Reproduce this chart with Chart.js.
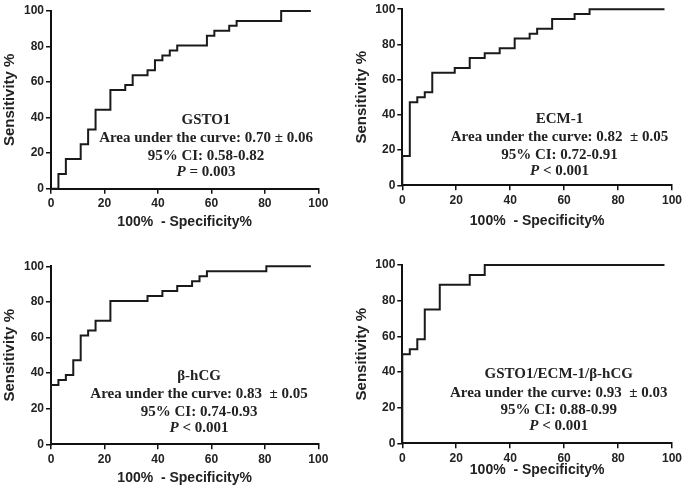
<!DOCTYPE html>
<html>
<head>
<meta charset="utf-8">
<script src="https://cdn.jsdelivr.net/npm/chart.js@4.4.0/dist/chart.umd.min.js"></script>
<style>
  html, body { margin: 0; padding: 0; background: #fff; }
  #wrap { position: relative; width: 685px; height: 489px; overflow: hidden; }
  #wrap canvas { position: absolute; }
</style>
</head>
<body>
<div id="wrap">
  <canvas id="rocGsto" width="342" height="245" style="left:0;top:0"></canvas>
  <canvas id="rocEcm" width="343" height="245" style="left:342px;top:0"></canvas>
  <canvas id="rocHcg" width="342" height="244" style="left:0;top:245px"></canvas>
  <canvas id="rocCombo" width="343" height="244" style="left:342px;top:245px"></canvas>
</div>
<script>
// ROC corner points (100% - specificity, sensitivity)
const gstoFpr = [0, 2.78, 5.56, 11.11, 13.89, 16.67, 22.22, 27.78, 30.56, 36.11, 38.89, 41.67, 44.44, 47.22, 58.33, 61.11, 66.67, 69.44, 86.11, 97.22];
const gstoTpr = [0, 8.33, 16.67, 25, 33.33, 44.44, 55.56, 58.33, 63.89, 66.67, 72.22, 75, 77.78, 80.56, 86.11, 88.89, 91.67, 94.44, 100, 100];

const ecmFpr = [0, 0, 2.78, 5.56, 8.33, 11.11, 19.44, 25, 30.56, 36.11, 41.67, 47.22, 50, 55.56, 63.89, 69.44, 97.22];
const ecmTpr = [0, 16.67, 47.22, 50, 52.78, 63.89, 66.67, 72.22, 75, 77.78, 83.33, 86.11, 88.89, 94.44, 97.22, 100, 100];

const hcgFpr = [0, 0, 2.78, 5.56, 8.33, 11.11, 13.89, 16.67, 22.22, 36.11, 41.67, 47.22, 52.78, 55.56, 58.33, 80.56, 97.22];
const hcgTpr = [0, 33.33, 36.11, 38.89, 47.22, 61.11, 63.89, 69.44, 80.56, 83.33, 86.11, 88.89, 91.67, 94.44, 97.22, 100, 100];

const comboFpr = [0, 0, 2.78, 5.56, 8.33, 13.89, 25, 30.56, 97.22];
const comboTpr = [0, 50, 52.78, 58.33, 75, 88.89, 94.44, 100, 100];

// annotation texts
const markerNames = ['GSTO1', 'ECM-1', 'β-hCG', 'GSTO1/ECM-1/β-hCG'];
const aucTexts = ['0.70 ± 0.06', '0.82  ± 0.05', '0.83  ± 0.05', '0.93  ± 0.03'];
const ciTexts = ['0.58-0.82', '0.72-0.91', '0.74-0.93', '0.88-0.99'];
const pTexts = [' = 0.003', ' < 0.001', ' < 0.001', ' < 0.001'];

const tickTicks = [0, 20, 40, 60, 80, 100];

const sansBold = "'Liberation Sans', Arial, sans-serif";
const serifFont = "'Liberation Serif', 'Times New Roman', serif";
const lineGaps = [0, 18.5, 36, 52];

// panel placement (pixels) and where the text block sits (data units)
const panels = [
    { id: 'rocGsto', fpr: gstoFpr, tpr: gstoTpr, yw: 51, xh: 56.3, pr: 23.7, pt: 11, ytPad: 1, xtPad: 14.6, textX: 58.0, textY: 38.7 },
    { id: 'rocEcm', fpr: ecmFpr, tpr: ecmTpr, yw: 60.3, xh: 59.7, pr: 12.3, pt: 7.3, ytPad: 10.7, xtPad: 15.6, textX: 58.3, textY: 37.8 },
    { id: 'rocHcg', fpr: hcgFpr, tpr: hcgTpr, yw: 51, xh: 44.7, pr: 23.7, pt: 21.3, ytPad: 1, xtPad: 2.6, textX: 55.4, textY: 38.4 },
    { id: 'rocCombo', fpr: comboFpr, tpr: comboTpr, yw: 60.3, xh: 45.7, pr: 12.3, pt: 20, ytPad: 10.7, xtPad: 10.6, textX: 58.0, textY: 38.7 }
];

// draws the centered text block inside the plot
function textBlock(index, box) {
    return {
        id: 'rocText' + index,
        afterDatasetsDraw(chart) {
            const ctx = chart.ctx;
            const cx = chart.scales.x.getPixelForValue(box.textX);
            const cy = chart.scales.y.getPixelForValue(box.textY);
            const bold = 'bold 15px ' + serifFont;
            const italic = 'italic bold 15px ' + serifFont;
            const lines = [
                [[markerNames[index], bold]],
                [['Area under the curve: ' + aucTexts[index], bold]],
                [['95% CI: ' + ciTexts[index], bold]],
                [['P', italic], [pTexts[index], bold]]
            ];
            ctx.save();
            ctx.fillStyle = '#222';
            ctx.textBaseline = 'middle';
            ctx.textAlign = 'left';
            lines.forEach((parts, i) => {
                let total = 0;
                parts.forEach(p => { ctx.font = p[1]; total += ctx.measureText(p[0]).width; });
                let x = cx - total / 2;
                parts.forEach(p => {
                    ctx.font = p[1];
                    ctx.fillText(p[0], x, cy + lineGaps[i]);
                    x += ctx.measureText(p[0]).width;
                });
            });
            ctx.restore();
        }
    };
}

function axisStyle() {
    return {
        type: 'linear',
        min: 0,
        max: 100,
        border: { display: true, color: '#111', width: 2 },
        grid: { display: true, drawOnChartArea: false, drawTicks: true, tickLength: 5, color: '#111', lineWidth: 1.5 },
        afterBuildTicks: s => { s.ticks = tickTicks.map(v => ({ value: v })); }
    };
}

panels.forEach((box, index) => {
    const points = box.fpr.map((x, i) => ({ x: x, y: box.tpr[i] }));
    const xAxis = axisStyle();
    xAxis.ticks = { color: '#222', padding: 3, maxRotation: 0, autoSkip: false, font: { family: sansBold, size: 12, weight: 'bold' } };
    xAxis.title = { display: true, text: '100%  - Specificity%', color: '#222', font: { family: sansBold, size: 14, weight: 'bold' }, padding: { top: 0, bottom: box.xtPad } };
    xAxis.afterFit = s => { s.height = box.xh; };

    const yAxis = axisStyle();
    yAxis.ticks = { color: '#222', padding: 2, autoSkip: false, font: { family: sansBold, size: 12, weight: 'bold' } };
    yAxis.title = { display: true, text: 'Sensitivity %', color: '#222', font: { family: sansBold, size: 15, weight: 'bold' }, padding: { top: box.ytPad, bottom: 0 } };
    yAxis.afterFit = s => { s.width = box.yw; };

    new Chart(document.getElementById(box.id), {
        type: 'line',
        data: {
            datasets: [{
                data: points,
                borderColor: '#1a1a1a',
                borderWidth: 2,
                pointRadius: 0,
                stepped: 'before',
                fill: false,
                clip: false
            }]
        },
        options: {
            responsive: false,
            animation: false,
            events: [],
            layout: { padding: { left: 0, right: box.pr, top: box.pt, bottom: 0 } },
            scales: { x: xAxis, y: yAxis },
            plugins: { legend: { display: false }, tooltip: { enabled: false } }
        },
        plugins: [textBlock(index, box)]
    });
});
</script>
</body>
</html>
